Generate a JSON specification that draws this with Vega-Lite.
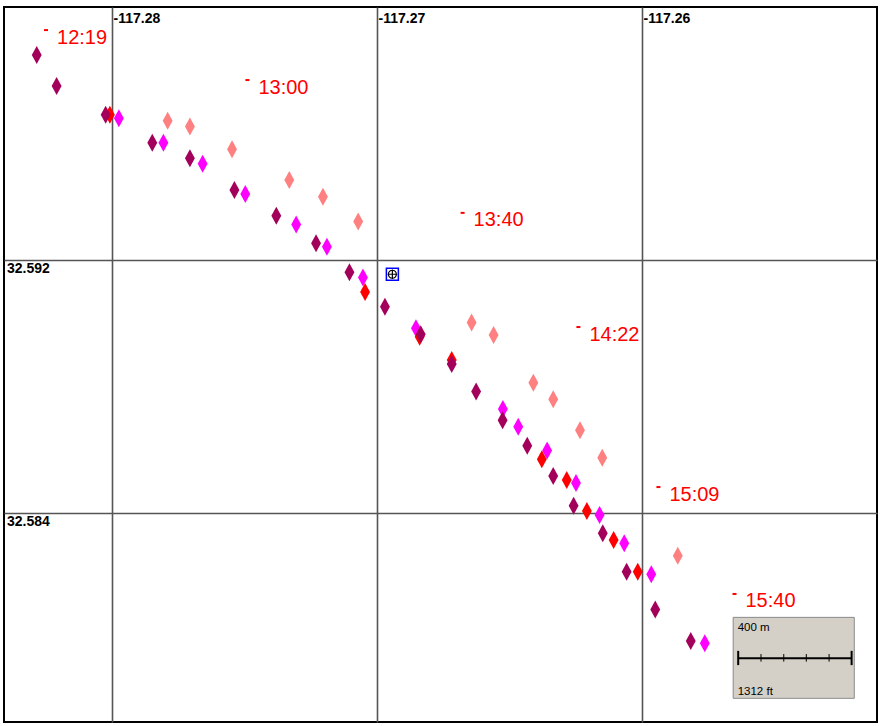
{
  "$schema": "https://vega.github.io/schema/vega-lite/v6.json",
  "width": 873,
  "height": 715,
  "autosize": {"type": "none"},
  "padding": {"left": 4, "top": 7, "right": 5, "bottom": 4},
  "background": "white",
  "config": {"view": {"stroke": "#000000", "strokeWidth": 2}},
  "datasets": {
    "fixes": [
      {"track": "T4", "lon": -117.27790, "lat": 32.59640},
      {"track": "T4", "lon": -117.27706, "lat": 32.59622},
      {"track": "T4", "lon": -117.27547, "lat": 32.59550},
      {"track": "T4", "lon": -117.27331, "lat": 32.59453},
      {"track": "T4", "lon": -117.27204, "lat": 32.59400},
      {"track": "T4", "lon": -117.27071, "lat": 32.59322},
      {"track": "T4", "lon": -117.26643, "lat": 32.59002},
      {"track": "T4", "lon": -117.26560, "lat": 32.58963},
      {"track": "T4", "lon": -117.26410, "lat": 32.58812},
      {"track": "T4", "lon": -117.26335, "lat": 32.58760},
      {"track": "T4", "lon": -117.26234, "lat": 32.58662},
      {"track": "T4", "lon": -117.26150, "lat": 32.58575},
      {"track": "T4", "lon": -117.25865, "lat": 32.58265},
      {"track": "T2", "lon": -117.27974, "lat": 32.59648},
      {"track": "T2", "lon": -117.27806, "lat": 32.59571},
      {"track": "T2", "lon": -117.27658, "lat": 32.59504},
      {"track": "T2", "lon": -117.27497, "lat": 32.59409},
      {"track": "T2", "lon": -117.27305, "lat": 32.59312},
      {"track": "T2", "lon": -117.27189, "lat": 32.59242},
      {"track": "T2", "lon": -117.27053, "lat": 32.59145},
      {"track": "T2", "lon": -117.26853, "lat": 32.58984},
      {"track": "T2", "lon": -117.26525, "lat": 32.58729},
      {"track": "T2", "lon": -117.26467, "lat": 32.58673},
      {"track": "T2", "lon": -117.26358, "lat": 32.58598},
      {"track": "T2", "lon": -117.26249, "lat": 32.58495},
      {"track": "T2", "lon": -117.26160, "lat": 32.58394},
      {"track": "T2", "lon": -117.26067, "lat": 32.58304},
      {"track": "T2", "lon": -117.25965, "lat": 32.58206},
      {"track": "T2", "lon": -117.25763, "lat": 32.57988},
      {"track": "T3", "lon": -117.28008, "lat": 32.59659},
      {"track": "T3", "lon": -117.27045, "lat": 32.59099},
      {"track": "T3", "lon": -117.26839, "lat": 32.58957},
      {"track": "T3", "lon": -117.26718, "lat": 32.58884},
      {"track": "T3", "lon": -117.26378, "lat": 32.58570},
      {"track": "T3", "lon": -117.26284, "lat": 32.58504},
      {"track": "T3", "lon": -117.26208, "lat": 32.58406},
      {"track": "T3", "lon": -117.26107, "lat": 32.58315},
      {"track": "T3", "lon": -117.26016, "lat": 32.58214},
      {"track": "T1", "lon": -117.28284, "lat": 32.59848},
      {"track": "T1", "lon": -117.28209, "lat": 32.59750},
      {"track": "T1", "lon": -117.28024, "lat": 32.59659},
      {"track": "T1", "lon": -117.27848, "lat": 32.59571},
      {"track": "T1", "lon": -117.27706, "lat": 32.59522},
      {"track": "T1", "lon": -117.27538, "lat": 32.59421},
      {"track": "T1", "lon": -117.27380, "lat": 32.59340},
      {"track": "T1", "lon": -117.27230, "lat": 32.59253},
      {"track": "T1", "lon": -117.27104, "lat": 32.59161},
      {"track": "T1", "lon": -117.26970, "lat": 32.59052},
      {"track": "T1", "lon": -117.26835, "lat": 32.58965},
      {"track": "T1", "lon": -117.26718, "lat": 32.58871},
      {"track": "T1", "lon": -117.26626, "lat": 32.58784},
      {"track": "T1", "lon": -117.26526, "lat": 32.58693},
      {"track": "T1", "lon": -117.26433, "lat": 32.58613},
      {"track": "T1", "lon": -117.26335, "lat": 32.58517},
      {"track": "T1", "lon": -117.26258, "lat": 32.58423},
      {"track": "T1", "lon": -117.26148, "lat": 32.58336},
      {"track": "T1", "lon": -117.26058, "lat": 32.58214},
      {"track": "T1", "lon": -117.25950, "lat": 32.58095},
      {"track": "T1", "lon": -117.25816, "lat": 32.57995}
    ],
    "times": [
      {"label": "12:19", "lon": -117.28249, "lat": 32.59927},
      {"label": "13:00", "lon": -117.27489, "lat": 32.59769},
      {"label": "13:40", "lon": -117.26677, "lat": 32.59349},
      {"label": "14:22", "lon": -117.26240, "lat": 32.58988},
      {"label": "15:09", "lon": -117.25938, "lat": 32.58482},
      {"label": "15:40", "lon": -117.25651, "lat": 32.58144}
    ],
    "scalebox": [
      {"lon": -117.25656, "lon2": -117.25199, "lat": 32.58070, "lat2": 32.57814}
    ],
    "scalebar": [
      {"part": "bar", "lon": -117.25637, "lon2": -117.25209, "lat": 32.57941, "lat2": 32.57941, "w": 2},
      {"part": "end", "lon": -117.25637, "lon2": -117.25637, "lat": 32.57964, "lat2": 32.57919, "w": 2},
      {"part": "tick", "lon": -117.25551, "lon2": -117.25551, "lat": 32.57954, "lat2": 32.57930, "w": 1},
      {"part": "tick", "lon": -117.25465, "lon2": -117.25465, "lat": 32.57954, "lat2": 32.57930, "w": 1},
      {"part": "tick", "lon": -117.25380, "lon2": -117.25380, "lat": 32.57954, "lat2": 32.57930, "w": 1},
      {"part": "tick", "lon": -117.25294, "lon2": -117.25294, "lat": 32.57954, "lat2": 32.57930, "w": 1},
      {"part": "end", "lon": -117.25209, "lon2": -117.25209, "lat": 32.57964, "lat2": 32.57919, "w": 2}
    ],
    "scaletext": [
      {"text": "400 m", "lon": -117.25639, "lat": 32.58028},
      {"text": "1312 ft", "lon": -117.25639, "lat": 32.57825}
    ],
    "cursor": [
      {"lon": -117.26942, "lat": 32.59155}
    ]
  },
  "encoding": {
    "x": {
      "field": "lon", "type": "quantitative",
      "scale": {"domain": [-117.2840755, -117.2511321], "nice": false, "zero": false},
      "axis": {
        "orient": "top", "values": [-117.28, -117.27, -117.26], "title": null,
        "grid": true, "gridColor": "#555555", "gridWidth": 1.6, "gridOpacity": 1,
        "domain": false, "ticks": false, "tickSize": 0,
        "labelExpr": "toString(datum.value)",
        "labelAlign": "left", "labelBaseline": "alphabetic", "labelPadding": -15.5, "labelOffset": 1,
        "labelFont": "Liberation Sans", "labelFontSize": 14, "labelFontWeight": "bold", "labelColor": "#000000",
        "labelFlush": false, "labelOverlap": false, "labelBound": false
      }
    },
    "y": {
      "field": "lat", "type": "quantitative",
      "scale": {"domain": [32.5773913, 32.6], "nice": false, "zero": false},
      "axis": {
        "orient": "left", "values": [32.592, 32.584], "title": null,
        "grid": true, "gridColor": "#555555", "gridWidth": 1.6, "gridOpacity": 1,
        "domain": false, "ticks": false, "tickSize": 0,
        "labelExpr": "toString(datum.value)",
        "labelAlign": "left", "labelBaseline": "alphabetic", "labelPadding": -2.5, "labelOffset": 12.7,
        "labelFont": "Liberation Sans", "labelFontSize": 14, "labelFontWeight": "bold", "labelColor": "#000000",
        "labelFlush": false, "labelOverlap": false, "labelBound": false
      }
    }
  },
  "layer": [
    {
      "data": {"name": "scalebox"},
      "mark": {"type": "rect", "fill": "#D4D0C8", "stroke": "#8a8a8a", "strokeWidth": 1},
      "encoding": {"x2": {"field": "lon2"}, "y2": {"field": "lat2"}}
    },
    {
      "data": {"name": "scalebar"},
      "mark": {"type": "rule", "color": "#000000"},
      "encoding": {
        "x2": {"field": "lon2"}, "y2": {"field": "lat2"},
        "strokeWidth": {"field": "w", "type": "quantitative", "scale": null}
      }
    },
    {
      "data": {"name": "scaletext"},
      "mark": {"type": "text", "align": "left", "baseline": "alphabetic", "font": "Liberation Sans", "fontSize": 11.5, "color": "#000000"},
      "encoding": {"text": {"field": "text"}}
    },
    {
      "data": {"name": "cursor"},
      "mark": {"type": "point", "shape": "square", "size": 144, "filled": true, "fill": "#ffffff", "stroke": "#0000ff", "strokeWidth": 1.5, "opacity": 1},
      "encoding": {}
    },
    {
      "data": {"name": "cursor"},
      "mark": {"type": "point", "shape": "M-1,0A1,1 0 1,0 1,0A1,1 0 1,0 -1,0M-1.2,0H1.2M0,-1.2V1.2", "size": 64, "filled": false, "fill": null, "stroke": "#000000", "strokeWidth": 1.2, "opacity": 1},
      "encoding": {}
    },
    {
      "data": {"name": "fixes"},
      "mark": {"type": "point", "shape": "M0,-1L0.55,0L0,1L-0.55,0Z", "size": 324, "filled": true, "opacity": 1, "strokeWidth": 0},
      "encoding": {
        "color": {
          "field": "track", "type": "nominal",
          "scale": {"domain": ["T1", "T2", "T3", "T4"], "range": ["#A3005C", "#FF00FF", "#FF0000", "#FF8080"]},
          "legend": null
        }
      }
    },
    {
      "data": {"name": "times"},
      "mark": {"type": "point", "shape": "M-1,-0.5H1V0.5H-1Z", "size": 16, "filled": true, "color": "#FF0000", "opacity": 1, "strokeWidth": 0},
      "encoding": {}
    },
    {
      "data": {"name": "times"},
      "mark": {"type": "text", "align": "left", "baseline": "alphabetic", "dx": 11, "dy": 13.5, "font": "Liberation Sans", "fontSize": 20, "color": "#FF0000"},
      "encoding": {"text": {"field": "label"}}
    }
  ]
}
